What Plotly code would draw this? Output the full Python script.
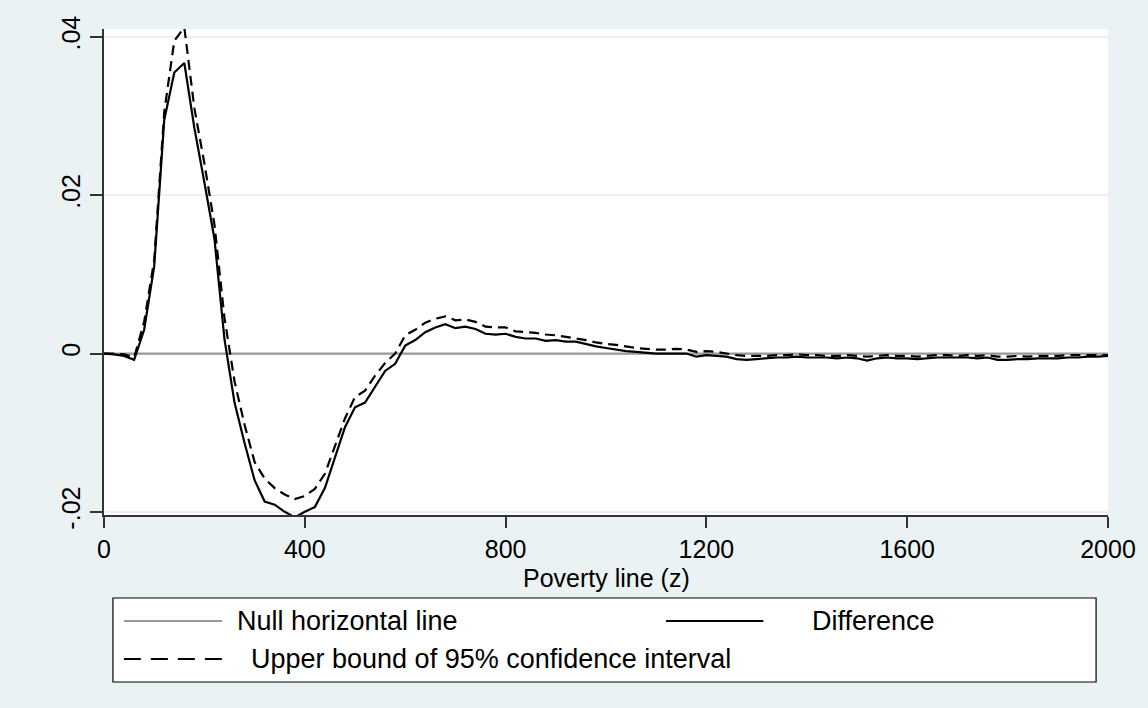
import plotly.graph_objects as go

# Poverty line grid (z)
z = list(range(0, 2001, 20))

difference = [
    0.0000, -0.0001, -0.0003, -0.0008, 0.0030, 0.0110, 0.0295, 0.0355, 0.0367, 0.0285,
    0.0216, 0.0145, 0.0018, -0.0062, -0.0113, -0.0160, -0.0187, -0.0191, -0.0200, -0.0207,
    -0.0200, -0.0194, -0.0170, -0.0130, -0.0093, -0.0068, -0.0062, -0.0042, -0.0022, -0.0013,
    0.0010, 0.0017, 0.0027, 0.0033, 0.0037, 0.0032, 0.0034, 0.0031, 0.0025, 0.0024,
    0.0025, 0.0021, 0.0019, 0.0019, 0.0016, 0.0017, 0.0015, 0.0015, 0.0012, 0.0009,
    0.0007, 0.0005, 0.0003, 0.0002, 0.0001, 0.0000, 0.0000, 0.0000, 0.0000, -0.0004,
    -0.0002, -0.0003, -0.0004, -0.0007, -0.0008, -0.0007, -0.0006, -0.0005, -0.0005, -0.0004,
    -0.0005, -0.0005, -0.0005, -0.0006, -0.0005, -0.0006, -0.0009, -0.0006, -0.0005, -0.0006,
    -0.0006, -0.0007, -0.0006, -0.0005, -0.0005, -0.0005, -0.0005, -0.0006, -0.0005, -0.0008,
    -0.0008, -0.0007, -0.0007, -0.0006, -0.0006, -0.0006, -0.0005, -0.0005, -0.0004, -0.0004,
    -0.0003,
]

upper_bound = [
    0.0000, 0.0000, -0.0001, -0.0005, 0.0040, 0.0118, 0.0305, 0.0395, 0.0412, 0.0310,
    0.0240, 0.0163, 0.0045, -0.0035, -0.0090, -0.0137, -0.0158, -0.0170, -0.0178, -0.0184,
    -0.0180, -0.0171, -0.0152, -0.0118, -0.0082, -0.0055, -0.0047, -0.0028, -0.0012, 0.0000,
    0.0023, 0.0030, 0.0039, 0.0044, 0.0047, 0.0042, 0.0043, 0.0040, 0.0034, 0.0033,
    0.0033, 0.0028, 0.0027, 0.0026, 0.0024, 0.0023, 0.0021, 0.0019, 0.0017, 0.0014,
    0.0012, 0.0011, 0.0009, 0.0007, 0.0006, 0.0005, 0.0005, 0.0006, 0.0005, 0.0002,
    0.0003, 0.0002, 0.0000, -0.0002, -0.0003, -0.0003, -0.0003, -0.0002, -0.0002, -0.0001,
    -0.0002, -0.0002, -0.0003, -0.0003, -0.0002, -0.0003, -0.0004, -0.0003, -0.0002, -0.0003,
    -0.0003, -0.0004, -0.0003, -0.0002, -0.0002, -0.0003, -0.0002, -0.0003, -0.0002, -0.0004,
    -0.0004, -0.0003, -0.0004, -0.0003, -0.0003, -0.0003, -0.0002, -0.0002, -0.0002, -0.0002,
    -0.0002,
]

null_x = [0, 2000]
null_y = [0, 0]

x_ticks = [0, 400, 800, 1200, 1600, 2000]
y_ticks = [-0.02, 0, 0.02, 0.04]
y_ticktext = ["-.02", "0", ".02", ".04"]

x_title = "Poverty line (z)"
legend_labels = ["Null horizontal line", "Difference", "Upper bound of 95% confidence interval"]

FONT = "Liberation Sans, Arial, sans-serif"
FS = 25
FS_LEG = 27
BG = "#EAF2F3"
AX = "#333333"
GREY = "#9A9A9A"

fig = go.Figure()
fig.add_trace(go.Scatter(x=null_x, y=null_y, mode="lines", name=legend_labels[0],
                         line=dict(color=GREY, width=2.2), showlegend=False))
fig.add_trace(go.Scatter(x=z, y=difference, mode="lines", name=legend_labels[1],
                         line=dict(color="black", width=2.2), showlegend=False))
fig.add_trace(go.Scatter(x=z, y=upper_bound, mode="lines", name=legend_labels[2],
                         line=dict(color="black", width=2.2, dash="10px,6px"), showlegend=False))

# plot area in pixels: x 104..1115, y 29..515
L, R, T, B = 104, 1115, 29, 515
W, H = R - L, B - T

def px(x):
    return (x - L) / W

def py(y):
    return (B - y) / H

shapes = [
    dict(type="rect", xref="paper", yref="paper", x0=px(113), x1=px(1103), y0=py(598), y1=py(682),
         line=dict(color="black", width=1.2), fillcolor="white", layer="below"),
    dict(type="line", xref="paper", yref="paper", x0=px(124), x1=px(223), y0=py(621), y1=py(621),
         line=dict(color=GREY, width=2.2)),
    dict(type="line", xref="paper", yref="paper", x0=px(670), x1=px(768), y0=py(621), y1=py(621),
         line=dict(color="black", width=2.2)),
    dict(type="line", xref="paper", yref="paper", x0=px(124), x1=px(223), y0=py(659), y1=py(659),
         line=dict(color="black", width=2.2, dash="17px,10px")),
]

annotations = [
    dict(xref="paper", yref="paper", x=0.5, y=py(578), text=x_title, showarrow=False,
         xanchor="center", yanchor="middle", font=dict(family=FONT, size=FS, color="black")),
    dict(xref="paper", yref="paper", x=px(236), y=py(621), text=legend_labels[0], showarrow=False,
         xanchor="left", yanchor="middle", font=dict(family=FONT, size=FS_LEG, color="black")),
    dict(xref="paper", yref="paper", x=px(815), y=py(621), text=legend_labels[1], showarrow=False,
         xanchor="left", yanchor="middle", font=dict(family=FONT, size=FS_LEG, color="black")),
    dict(xref="paper", yref="paper", x=px(250), y=py(659), text=legend_labels[2], showarrow=False,
         xanchor="left", yanchor="middle", font=dict(family=FONT, size=FS_LEG, color="black")),
]

fig.update_layout(
    width=1148, height=708,
    margin=dict(l=L, r=1148 - R, t=T, b=708 - B, pad=0),
    paper_bgcolor=BG, plot_bgcolor="white",
    font=dict(family=FONT, size=FS, color="black"),
    showlegend=False,
    shapes=shapes, annotations=annotations,
    xaxis=dict(range=[0, 2000], tickvals=x_ticks, ticks="outside", ticklen=11, tickwidth=1.5,
               tickcolor=AX, showline=True, linecolor=AX, linewidth=1.5, showgrid=False,
               zeroline=False, tickfont=dict(family=FONT, size=FS)),
    yaxis=dict(range=[-0.0204, 0.0410], tickvals=y_ticks, ticktext=y_ticktext, tickangle=-90,
               ticks="outside", ticklen=12, tickwidth=1.5, tickcolor=AX, showline=True,
               linecolor=AX, linewidth=1.5, showgrid=True, gridcolor=BG, gridwidth=1.5,
               zeroline=False, tickfont=dict(family=FONT, size=FS)),
)

fig.write_html("out.html")
